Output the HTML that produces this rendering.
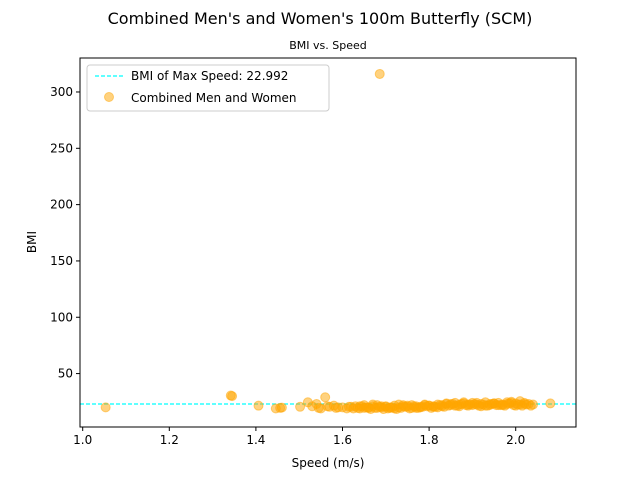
<!DOCTYPE html>
<html><head><meta charset="utf-8"><style>
body{margin:0;background:#fff;font-family:"Liberation Sans","DejaVu Sans",sans-serif}
svg text{font-family:"DejaVu Sans","Liberation Sans",sans-serif}
</style></head><body>
<svg id="c" width="640" height="480"></svg>
<script>
const speeds=[1.053,1.342,1.345,1.406,1.446,1.456,1.46,1.502,1.52,1.54,1.545,1.56,1.565,1.57,1.585,1.6,1.61,1.62,1.63,1.64,1.65,1.66,1.67,1.68,1.69,1.7,1.71,1.72,1.73,1.74,1.75,1.76,1.77,1.78,1.79,1.8,1.81,1.82,1.83,1.84,1.85,1.86,1.87,1.88,1.89,1.9,1.91,1.92,1.93,1.94,1.95,1.96,1.97,1.98,1.99,2.0,2.01,2.02,2.03,2.04,1.64,1.66,1.68,1.7,1.72,1.74,1.76,1.78,1.8,1.82,1.84,1.86,1.88,1.9,1.92,1.94,1.96,1.98,2.0,2.02,1.65,1.67,1.69,1.71,1.73,1.75,1.77,1.79,1.81,1.83,1.85,1.87,1.89,1.91,1.93,1.95,1.97,1.99,2.01,1.686,2.08,
1.615,1.625,1.635,1.645,1.655,1.665,1.675,1.685,1.695,1.705,1.715,1.725,1.735,1.745,1.755,1.765,1.775,1.785,1.795,1.805,1.815,1.825,1.835,1.845,1.855,1.865,1.875,1.885,1.895,1.905,1.915,1.925,1.935,1.945,1.955,1.965,1.975,1.985,1.995,2.005,2.015,2.025,2.035,1.58,1.59,1.55,1.53];
const bmis=[20,30.5,30,21.5,19,19.5,19.8,20.5,24.5,23,19.5,29,21,20.5,19.5,20,19,20.5,21,19,22,20,21,19.5,20,21,19.5,21.5,20,22,20.5,19.5,21,20,22,21.5,20.5,22.5,21,23,22,24,22.5,23.5,21.5,24,22.5,23,24.5,22,23.5,24,22.5,23,25,23.5,22.5,24,23,22.5,21,19.5,22,20.5,19,21,22,20.5,21.5,20,23.5,21.5,24.5,22,21,23,22,24.5,21.5,23,19.5,22.5,21,20,22.5,21.5,19.5,22.5,21,22,23,21,22.5,24,21.5,23.5,22,24,25.5,316,23.5,
20.5,19,19.5,21,20,18.5,19.5,20.5,18.5,19,20,18.5,19.5,20.5,19,21,19.5,20.5,21,19.5,20.5,22,20.5,21.5,23,21.5,23,22,22.5,23,21.5,22.5,21.5,23,22,22,21.5,23.5,22,22.5,21.5,22.5,21.5,21.5,20,19,21];
const xTicks=[1.0,1.2,1.4,1.6,1.8,2.0];
const yTicks=[50,100,150,200,250,300];
const bmiMax=22.992;
const NS="http://www.w3.org/2000/svg";
const svg=document.getElementById('c');
const L=80,R=576,T=58,B=427;
const xs=v=>82.7+(v-1.0)*433;
const ys=v=>429.9-v*1.1264;
function mk(t,a,txt){const e=document.createElementNS(NS,t);for(const k in a)e.setAttribute(k,a[k]);if(txt!=null)e.textContent=txt;svg.appendChild(e);return e;}
let e;
e=mk('text',{x:320,y:24,'text-anchor':'middle','font-size':16},"Combined Men's and Women's 100m Butterfly (SCM)");


e=mk('text',{x:328,y:49,'text-anchor':'middle','font-size':11},"BMI vs. Speed");


e=mk('line',{x1:L,x2:R,y1:ys(bmiMax),y2:ys(bmiMax),stroke:'#00ffff','stroke-width':1.2,'stroke-dasharray':'4,2'});


for(let i=0;i<speeds.length;i++){
 e=mk('circle',{cx:xs(speeds[i]),cy:ys(bmis[i]),r:4.5,fill:'orange','fill-opacity':0.5,stroke:'orange','stroke-opacity':0.5,'stroke-width':1});
 
 
}
e=mk('rect',{x:L,y:T,width:R-L,height:B-T,fill:'none',stroke:'#000','stroke-width':1});


xTicks.forEach(v=>{const x=xs(v);
 e=mk('line',{x1:x,x2:x,y1:B,y2:B+4,stroke:'#000'});
 
 
 e=mk('text',{x:x,y:B+17,'text-anchor':'middle','font-size':12},v.toFixed(1));
 
 
});
yTicks.forEach(v=>{const y=ys(v);
 e=mk('line',{x1:L-4,x2:L,y1:y,y2:y,stroke:'#000'});
 
 
 e=mk('text',{x:L-7,y:y+4,'text-anchor':'end','font-size':12},String(v));
 
 
});
e=mk('text',{x:328,y:467,'text-anchor':'middle','font-size':12},"Speed (m/s)");


e=mk('text',{x:36,y:242,'text-anchor':'middle','font-size':12,transform:'rotate(-90 36 242)'},"BMI");


e=mk('rect',{x:87,y:65,width:242,height:46,rx:3,fill:'#fff','fill-opacity':0.8,stroke:'#ccc'});


e=mk('line',{x1:95,x2:123,y1:76,y2:76,stroke:'#00ffff','stroke-width':1.2,'stroke-dasharray':'4,2'});


e=mk('text',{x:131,y:80,'font-size':12},"BMI of Max Speed: 22.992");


e=mk('circle',{cx:109,cy:97,r:4.5,fill:'orange','fill-opacity':0.5,stroke:'orange','stroke-opacity':0.5});


e=mk('text',{x:131,y:102,'font-size':12},"Combined Men and Women");


</script>
</body></html>
